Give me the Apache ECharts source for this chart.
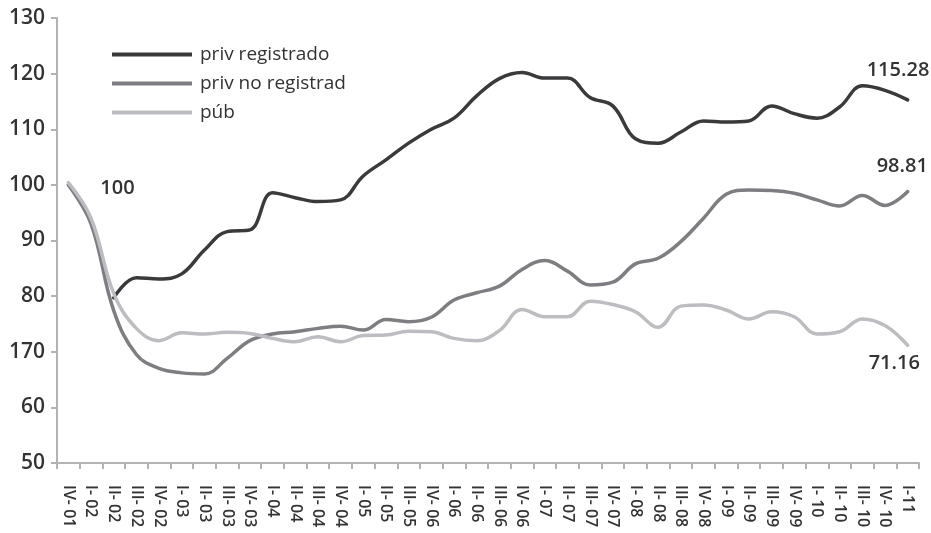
<!DOCTYPE html>
<html>
<head>
<meta charset="utf-8">
<script src="https://cdn.jsdelivr.net/npm/echarts@6/dist/echarts.min.js"></script>
<style>html,body{margin:0;padding:0;background:#fff}#c{width:931px;height:533px}</style>
</head>
<body>
<div id="c"></div>
<script>
const categories = ['IV- 01','I- 02','II- 02','III- 02','IV- 02','I- 03','II- 03','III- 03','IV- 03','I- 04','II- 04','III- 04','IV- 04','I- 05','II- 05','III- 05','IV- 06','I- 06','II- 06','III- 06','IV- 06','I- 07','II- 07','III- 07','IV- 07','I- 08','II- 08','III- 08','IV- 08','I- 09','II- 09','III- 09','IV- 09','I- 10','II- 10','III- 10','IV- 10','I-11'];
const privRegistrado = ['-','-',79.7,83.3,83.1,84.0,88.3,91.6,91.9,98.6,97.7,97.0,97.3,101.6,104.5,107.5,110.0,112.0,116.0,119.1,120.2,119.2,119.2,115.7,114.2,108.3,107.5,109.5,111.5,111.3,111.5,114.2,112.8,112.0,114.0,117.8,117.0,115.28];
const privNoRegistrad = [100,93.0,77.4,69.5,67.0,66.2,66.0,68.8,72.0,73.2,73.6,74.2,74.6,73.9,75.8,75.4,76.2,79.3,80.6,81.8,84.8,86.4,84.5,82.0,82.5,85.8,86.8,89.8,94.0,98.3,99.1,99.0,98.5,97.3,96.2,98.1,96.3,98.81];
const pub = [100.4,94.0,80.5,74.2,72.0,73.4,73.2,73.5,73.3,72.4,71.8,72.7,71.8,72.9,73.0,73.7,73.6,72.4,72.0,73.8,77.6,76.3,76.3,79.1,78.5,77.2,74.4,78.2,78.4,77.5,75.9,77.2,76.3,73.2,73.6,75.9,74.7,71.16];
const yTickLabels = {50:'50',60:'60',70:'170',80:'80',90:'90',100:'100',110:'110',120:'120',130:'130'};
const startLabel = '100';

const FONT = 'Open Sans';
const chart = echarts.init(document.getElementById('c'));
const numStyle = {fontFamily: FONT, fontSize: 20, color: '#333', fontWeight: 600};

chart.setOption({
  animation: false,
  grid: {left: 57, right: 12, top: 18, bottom: 70, containLabel: false},
  legend: {
    orient: 'vertical', left: 107, top: 40, itemGap: 10, itemWidth: 80, itemHeight: 4,
    icon: 'rect',
    textStyle: {fontFamily: FONT, fontSize: 19, color: '#333', padding: [0, 0, 0, 3]},
    data: ['priv registrado','priv no registrad','púb']
  },
  xAxis: {
    type: 'category', data: categories, boundaryGap: true,
    axisLine: {lineStyle: {color: '#b3b3b3', width: 2}},
    axisTick: {show: true, length: 6, lineStyle: {color: '#b3b3b3', width: 2}},
    axisLabel: {rotate: -90, interval: 0, margin: 22, fontFamily: FONT, fontSize: 16, color: '#333', fontWeight: 600}
  },
  yAxis: {
    type: 'value', min: 50, max: 130, interval: 10,
    axisLine: {show: true, lineStyle: {color: '#b3b3b3', width: 2}},
    axisTick: {show: true, length: 6, lineStyle: {color: '#b3b3b3', width: 2}},
    splitLine: {show: false},
    axisLabel: Object.assign({margin: 12,
      formatter: v => yTickLabels[v] !== undefined ? yTickLabels[v] : String(v)}, numStyle, {fontSize: 21})
  },
  series: [
    {name: 'priv registrado', type: 'line', data: privRegistrado, smooth: 0.4, symbol: 'none',
     color: '#3a3a3c', lineStyle: {width: 3.5, color: '#3a3a3c', cap: 'round'},
     endLabel: Object.assign({show: true, offset: [-49, -30], formatter: p => String(p.value)}, numStyle)},
    {name: 'priv no registrad', type: 'line', data: privNoRegistrad, smooth: 0.4, symbol: 'none',
     color: '#7e7e82', lineStyle: {width: 3.5, color: '#7e7e82', cap: 'round'},
     endLabel: Object.assign({show: true, offset: [-39, -25], formatter: p => String(p.value)}, numStyle)},
    {name: 'púb', type: 'line', data: pub, smooth: 0.4, symbol: 'none',
     color: '#bdbdc1', lineStyle: {width: 3.5, color: '#bdbdc1', cap: 'round'},
     endLabel: Object.assign({show: true, offset: [-47, 18], formatter: p => String(p.value)}, numStyle)},
    {name: 'start', type: 'scatter', data: privNoRegistrad.map((v,i) => i === 0 ? v : '-'), symbolSize: 0,
     itemStyle: {color: '#333', opacity: 1}, silent: true, z: 5,
     label: Object.assign({show: true, position: 'right', distance: 32, offset: [0, 3], opacity: 1, formatter: startLabel}, numStyle)}
  ]
});
</script>
</body>
</html>
